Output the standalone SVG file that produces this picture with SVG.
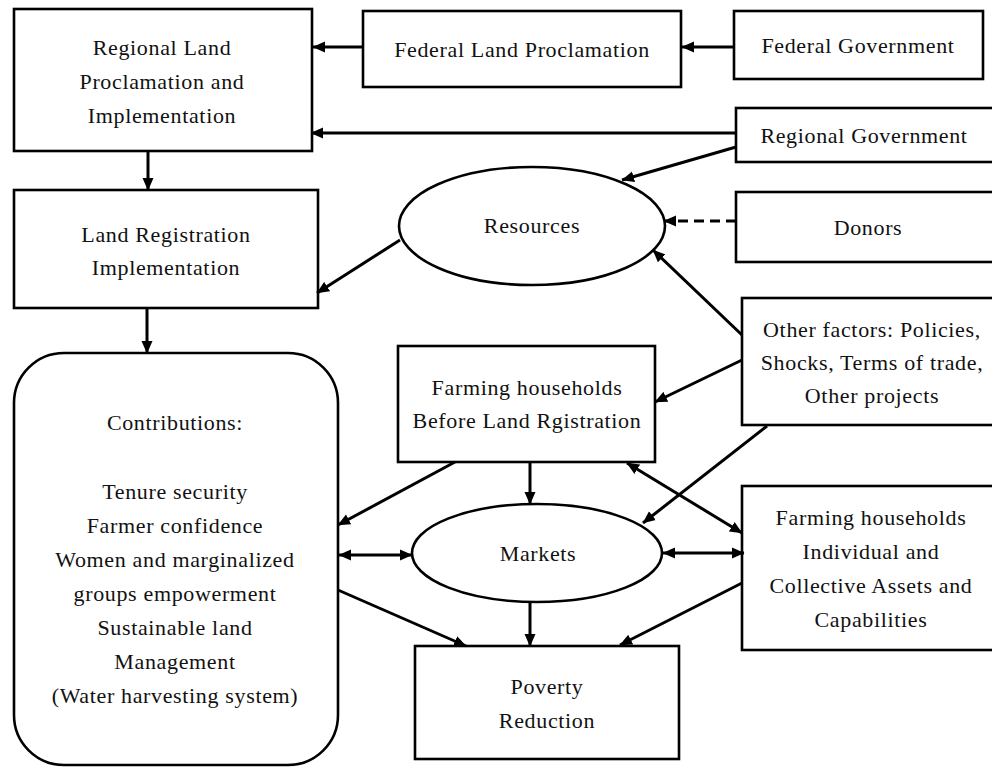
<svg xmlns="http://www.w3.org/2000/svg" width="992" height="768" viewBox="0 0 992 768">
<defs>
<style>
.box{fill:#fff;stroke:#000;stroke-width:2.6}
.t{font-family:"Liberation Serif","Times New Roman",serif;font-size:22px;letter-spacing:0.65px;fill:#111;text-anchor:middle}
.c{fill:none;stroke:#000;stroke-width:3;marker-end:url(#ah)}
.d{marker-start:url(#ah)}
.dash{stroke-dasharray:10,6}
</style>
<marker id="ah" markerUnits="userSpaceOnUse" markerWidth="13" markerHeight="12" refX="12" refY="6" orient="auto-start-reverse" viewBox="0 0 13 12">
<path d="M0,0.5 L12.5,6 L0,11.5 z" fill="#000"/>
</marker>
</defs>
<rect width="992" height="768" fill="#fff"/>

<g id="regional-land-proclamation">
<rect class="box" x="14" y="9" width="298" height="142"/>
<text class="t" x="162" y="55">Regional Land</text>
<text class="t" x="162" y="89">Proclamation and</text>
<text class="t" x="162" y="123">Implementation</text>
</g>
<g id="federal-land-proclamation">
<rect class="box" x="363" y="11" width="318" height="76"/>
<text class="t" x="522" y="57">Federal Land Proclamation</text>
</g>
<g id="federal-government">
<rect class="box" x="734" y="11" width="249" height="68"/>
<text class="t" x="858" y="53">Federal Government</text>
</g>
<g id="regional-government">
<rect class="box" x="736" y="108" width="262" height="54"/>
<text class="t" x="864" y="143">Regional Government</text>
</g>
<g id="resources">
<ellipse class="box" cx="532" cy="226" rx="133" ry="59"/>
<text class="t" x="532" y="233">Resources</text>
</g>
<g id="donors">
<rect class="box" x="736" y="192" width="262" height="70"/>
<text class="t" x="868" y="235">Donors</text>
</g>
<g id="land-registration">
<rect class="box" x="14" y="190" width="304" height="118"/>
<text class="t" x="166" y="242">Land Registration</text>
<text class="t" x="166" y="275">Implementation</text>
</g>
<g id="other-factors">
<rect class="box" x="742" y="298" width="256" height="127"/>
<text class="t" x="872" y="337">Other factors: Policies,</text>
<text class="t" x="872" y="370">Shocks, Terms of trade,</text>
<text class="t" x="872" y="403">Other projects</text>
</g>
<g id="contributions">
<rect class="box" x="14" y="353" width="324" height="412" rx="50" ry="50"/>
<text class="t" x="175" y="430">Contributions:</text>
<text class="t" x="175" y="499">Tenure security</text>
<text class="t" x="175" y="533">Farmer confidence</text>
<text class="t" x="175" y="567">Women and marginalized</text>
<text class="t" x="175" y="601">groups empowerment</text>
<text class="t" x="175" y="635">Sustainable land</text>
<text class="t" x="175" y="669">Management</text>
<text class="t" x="175" y="703">(Water harvesting system)</text>
</g>
<g id="farming-households-before">
<rect class="box" x="398" y="346" width="257" height="116"/>
<text class="t" x="527" y="395">Farming households</text>
<text class="t" x="527" y="428">Before Land Rgistration</text>
</g>
<g id="markets">
<ellipse class="box" cx="537" cy="553" rx="125" ry="49"/>
<text class="t" x="538" y="561">Markets</text>
</g>
<g id="farming-households-assets">
<rect class="box" x="742" y="486" width="256" height="164"/>
<text class="t" x="871" y="525">Farming households</text>
<text class="t" x="871" y="559">Individual and</text>
<text class="t" x="871" y="593">Collective Assets and</text>
<text class="t" x="871" y="627">Capabilities</text>
</g>
<g id="poverty-reduction">
<rect class="box" x="415" y="646" width="264" height="113"/>
<text class="t" x="547" y="694">Poverty</text>
<text class="t" x="547" y="728">Reduction</text>
</g>

<g id="connectors">
<path class="c" d="M734,47 L682,47"/>
<path class="c" d="M363,47 L313,47"/>
<path class="c" d="M736,133 L311,133"/>
<path class="c" d="M736,147 L622,180"/>
<path class="c" d="M148,151 L148,190"/>
<path class="c" d="M400,240 L317,293"/>
<path class="c dash" d="M736,221 L664,221"/>
<path class="c" d="M742,335 L653,250"/>
<path class="c" d="M742,360 L655,402"/>
<path class="c" d="M767,426 L643,523"/>
<path class="c" d="M147,308 L147,353"/>
<path class="c" d="M455,462 L338,525"/>
<path class="c d" d="M339,555 L412,555"/>
<path class="c" d="M338,590 L466,646"/>
<path class="c" d="M530,462 L530,504"/>
<path class="c d" d="M627,463 L742,533"/>
<path class="c d" d="M663,553 L744,553"/>
<path class="c" d="M530,602 L530,646"/>
<path class="c" d="M742,583 L620,645"/>
</g>
</svg>
